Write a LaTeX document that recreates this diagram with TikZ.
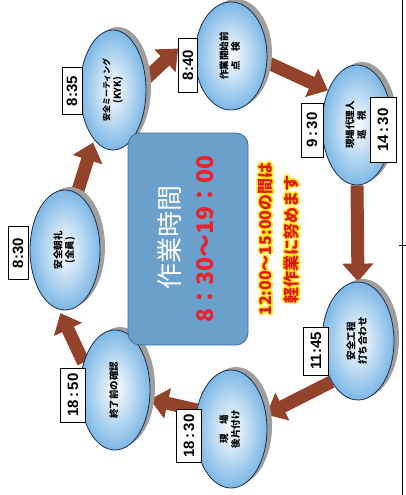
\documentclass[tikz,border=0pt]{standalone}
\usepackage{fontspec}
\usepackage{graphicx}
\setmainfont{Noto Sans CJK JP}
\newfontfamily\timefont{Liberation Sans}
\usetikzlibrary{
	arrows.meta,
	backgrounds,
	shapes.geometric,
	shadows,
}
\definecolor{bubbleedge}{HTML}{1C2E4A}
\definecolor{bubbleblue}{HTML}{7DB8E6}
\definecolor{arrowbrown}{HTML}{94432B}
\definecolor{panelblue}{HTML}{6B9FCC}
\definecolor{paneledge}{HTML}{3F6E9C}
\definecolor{notered}{HTML}{E4141B}
\definecolor{timered}{HTML}{E8232A}
\newcommand\bubtext[1]{\rotatebox{90}{\begin{tabular}{@{}c@{}}#1\end{tabular}}}
\newcommand\notetext{12:00～15:00の間は\\軽作業に努めます}
\tikzset{
	bubble/.style={ellipse, draw=bubbleedge, line width=0.8pt, inner color=white, outer color=bubbleblue,
		drop shadow={shadow xshift=5pt, shadow yshift=3pt, fill=gray!75, opacity=1},
		inner sep=0pt, font=\bfseries\fontsize{9.5}{11}\selectfont},
	timebox/.style={draw=black, line width=0.8pt, fill=white, rotate=90, inner sep=0pt,
		font=\timefont\bfseries\fontsize{15}{15}\selectfont},
	flow/.style={arrowbrown, line width=13pt, -{Triangle[width=30pt, length=18pt]}},
	notestyle/.style={rotate=90, align=center, font=\bfseries\fontsize{16}{26}\selectfont},
}
\begin{document}
\begin{tikzpicture}[x=1pt, y=-1pt]
			\useasboundingbox (0,0) rectangle (406,495);
			% bubbles
			\node[bubble, minimum width=70pt, minimum height=120pt] (asa) at (65,250) {\bubtext{安全朝礼\\(全員)}};
			\node[bubble, minimum width=66pt, minimum height=120pt] (mtg) at (113,90) {\bubtext{\fontsize{8}{10}\selectfont 安全ミーティング\\(KYK)}};
			\node[bubble, minimum width=72pt, minimum height=108pt] (chk) at (231,56) {\bubtext{作業開始前\\点　検}};
			\node[bubble, minimum width=70pt, minimum height=120pt] (jun) at (357,125) {\bubtext{現場代理人\\巡　視}};
			\node[bubble, minimum width=72pt, minimum height=118pt] (utg) at (358,341) {\bubtext{安全工程\\打ち合わせ}};
			\node[bubble, minimum width=72pt, minimum height=118pt] (kat) at (231,429) {\bubtext{現　場\\後片付け}};
			\node[bubble, minimum width=70pt, minimum height=120pt] (kak) at (115,390) {\bubtext{終了前の確認}};
			% times
			\node[timebox, minimum width=53pt, minimum height=20pt] (t830) at (18,253) {8:30};
			\node[timebox, minimum width=47pt, minimum height=20pt] (t835) at (72,91) {8:35};
			\node[timebox, minimum width=54pt, minimum height=19pt] (t840) at (188,65) {8:40};
			\node[timebox, minimum width=54pt, minimum height=22pt] (t930) at (312,130) {9\,:\,30};
			\node[timebox, minimum width=65pt, minimum height=26pt] (t1430) at (383,130) {14\,:\,30};
			\node[timebox, minimum width=48pt, minimum height=25pt] (t1145) at (316,351) {11:45};
			\node[timebox, minimum width=53pt, minimum height=25pt] (t1830) at (189,436) {18\,:\,30};
			\node[timebox, minimum width=54pt, minimum height=25pt] (t1850) at (73,395) {18\,:\,50};
			% centre panel
			\node[draw=paneledge, fill=panelblue, line width=0.8pt, rounded corners=12pt,
				minimum width=120pt, minimum height=212pt] (panel) at (188,239) {};
			\node[rotate=90, text=white, font=\fontsize{26}{26}\selectfont] (worktitle) at (170,237) {作業時間};
			\node[rotate=90, text=timered, font=\bfseries\fontsize{23}{23}\selectfont] (worktime) at (205,239) {8：30～19：00};
			% note with yellow glow
			\foreach \a in {0,30,...,330}
				\node[notestyle, text=yellow!90!orange, opacity=0.5] at ([shift={(\a:1.8)}]279,239) {\notetext};
			\node[notestyle, text=notered] (note) at (279,239) {\notetext};
			% flow arrows
			\begin{scope}[on background layer]
				\draw[flow, shorten >=3pt] (asa.78) -- (mtg.249);
				\draw[flow] (mtg.19) -- (t840.31);
				\draw[flow] (chk.350) -- (jun.130);
				\draw[flow] (jun.south) -- (utg.north);
				\draw[flow] (utg.237) -- (kat.22);
				\draw[flow] (kat.151) -- (kak.345);
				\draw[flow, shorten >=4pt] (kak.139) -- (asa.264);
			\end{scope}
			% frame edge
			\draw[line width=0.8pt] (402,0) -- (402,495);
			\draw[line width=0.8pt] (399,245) -- (406,245);
		\end{tikzpicture}
\end{document}
